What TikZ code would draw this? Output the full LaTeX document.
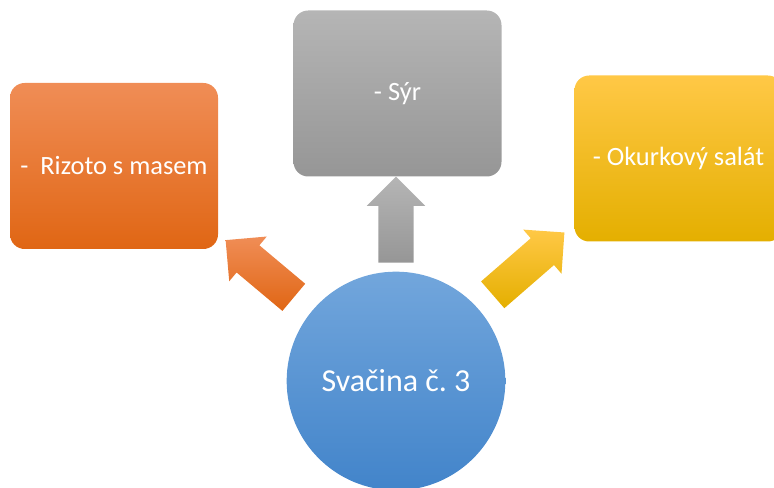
\documentclass[tikz,border=0pt]{standalone}
\usepackage{fontspec}
\setmainfont{Carlito}
\usetikzlibrary{shapes.arrows}

\definecolor{orTop}{RGB}{240,141,86}
\definecolor{orMid}{RGB}{241,124,40}
\definecolor{orBot}{RGB}{224,102,20}
\definecolor{grTop}{RGB}{181,181,181}
\definecolor{grMid}{RGB}{166,166,166}
\definecolor{grBot}{RGB}{150,150,150}
\definecolor{yeTop}{RGB}{255,200,70}
\definecolor{yeMid}{RGB}{254,191,0}
\definecolor{yeBot}{RGB}{228,175,0}
\definecolor{blTop}{RGB}{114,166,220}
\definecolor{blMid}{RGB}{90,154,214}
\definecolor{blBot}{RGB}{66,132,202}

\tikzset{
  dish/.style={rectangle, rounded corners=11pt, minimum width=156pt, minimum height=124.5pt,
    inner sep=0pt, text=white, font=\fontsize{19.8}{24}\selectfont},
  bigarrow/.style={single arrow, single arrow tip angle=90, single arrow head extend=8.6pt,
    minimum width=43.5pt, inner xsep=0pt, inner ysep=13.1pt, anchor=tail},
}

\begin{document}
\begin{tikzpicture}[x=0.75pt, y=-0.75pt]
			%%%%% START %%%%%
			\useasboundingbox (0, 0) rectangle (774, 488);
			\clip (0, 0) rectangle (774, 488);
			
			% the three boxes
			\node[dish, top color=orTop, middle color=orMid, bottom color=orBot] (rizoto) at (114, 166) {-~~Rizoto s masem};
			\node[dish, top color=grTop, middle color=grMid, bottom color=grBot] (syr) at (397.5, 93.5) {\raisebox{-4.5pt}{- Sýr}};
			\node[dish, top color=yeTop, middle color=yeMid, bottom color=yeBot] (salat) at (678.5, 158.5) {- Okurkový salát};
			
			% arrows, placed by their tails
			\coordinate (tRizoto) at (294, 297.5);
			\coordinate (tSyr) at (396, 263);
			\coordinate (tSalat) at (492.5, 295);
			\node[bigarrow, minimum height=66.75pt, rotate=140, top color=orTop, middle color=orMid, bottom color=orBot] (arrRizoto) at (tRizoto) {};
			\node[bigarrow, minimum height=64.5pt, rotate=90, top color=grTop, middle color=grMid, bottom color=grBot] (arrSyr) at (tSyr) {};
			\node[bigarrow, minimum height=71.25pt, rotate=41, top color=yeTop, middle color=yeMid, bottom color=yeBot] (arrSalat) at (tSalat) {};
			
			% the circle
			\node[circle, minimum size=164pt, inner sep=0pt, top color=blTop, middle color=blMid, bottom color=blBot,
			  text=white, font=\fontsize{24}{28}\selectfont] (svacina) at (396, 381) {Svačina č.\ 3};
			%%%%% END %%%%%
\end{tikzpicture}
\end{document}
